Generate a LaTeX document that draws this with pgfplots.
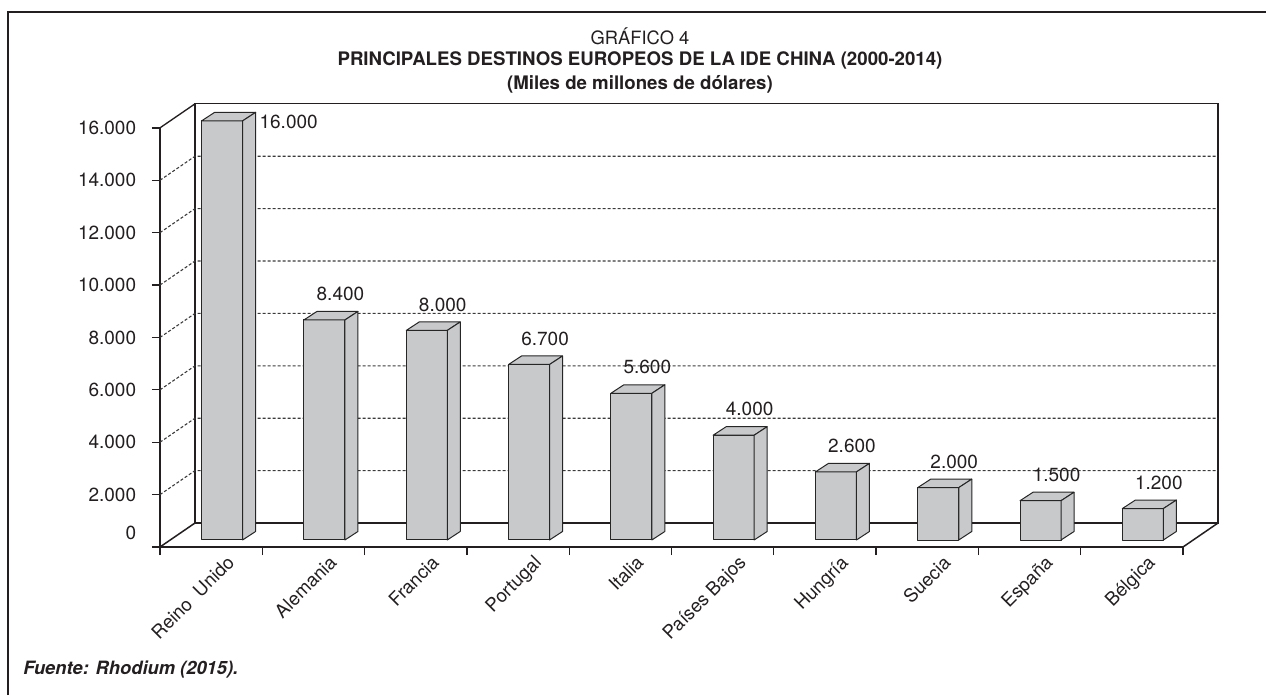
\documentclass[border=0pt]{standalone}
\usepackage{fontspec}
\setmainfont{TeX Gyre Heros}
\usepackage{pgfplots}
\pgfplotsset{compat=1.18}
\usepackage{pgfplotstable}

\definecolor{barfill}{HTML}{C8C9CB}
\definecolor{barline}{HTML}{262626}
\definecolor{ink}{HTML}{231F20}
\definecolor{gridc}{HTML}{3A3A3A}

% x = category centre, v = value, labx/laby = label offset (pt)
\pgfplotstableread{
x v labx laby
0.5 16000 46.5 3.6
1.5 8400 16.2 19.8
2.5 8000 16.2 19.8
3.5 6700 16.2 19.8
4.5 5600 16.2 19.8
5.5 4000 16.2 19.8
6.5 2600 16.2 19.8
7.5 2000 16.2 19.8
8.5 1500 16.2 19.8
9.5 1200 16.2 19.8
}\ideData

% 3d bar drawn at the data point: front, top and side face
\pgfdeclareplotmark{prism}{%
  \pgfmathsetmacro\yb{4.2-\barv*0.01572}%
  \pgfmathsetmacro\ybb{\yb+5.1}%
  \pgfsetlinewidth{0.6pt}\pgfsetroundjoin
  \pgfsetstrokecolor{barline}\pgfsetfillcolor{barfill}%
  \pgfpathrectanglecorners{\pgfpoint{-5.7pt}{\yb pt}}{\pgfpoint{18.9pt}{4.2pt}}%
  \pgfusepath{fill,stroke}%
  \pgfpathmoveto{\pgfpoint{-5.7pt}{4.2pt}}%
  \pgfpathlineto{\pgfpoint{18.9pt}{4.2pt}}%
  \pgfpathlineto{\pgfpoint{26.7pt}{9.3pt}}%
  \pgfpathlineto{\pgfpoint{2.1pt}{9.3pt}}%
  \pgfpathclose\pgfusepath{fill,stroke}%
  \pgfpathmoveto{\pgfpoint{18.9pt}{4.2pt}}%
  \pgfpathlineto{\pgfpoint{26.7pt}{9.3pt}}%
  \pgfpathlineto{\pgfpoint{26.7pt}{\ybb pt}}%
  \pgfpathlineto{\pgfpoint{18.9pt}{\yb pt}}%
  \pgfpathclose\pgfusepath{fill,stroke}%
}

\begin{document}
\begin{tikzpicture}[x=0.6pt,y=0.6pt]
\useasboundingbox (0,0) rectangle (1266,695);
\draw[line width=0.9pt, ink] (8,0) -- (8,683) -- (1266,683);
\node[font=\fontsize{11}{12}\selectfont, text=ink] at (640,659) {GRÁFICO 4};
\node[font=\bfseries\fontsize{11.2}{12}\selectfont, text=ink] at (640,635) {PRINCIPALES DESTINOS EUROPEOS DE LA IDE CHINA (2000-2014)};
\node[font=\bfseries\fontsize{11.2}{12}\selectfont, text=ink] at (640,611) {(Miles de millones de dólares)};
\node[anchor=west, inner sep=0pt, font=\bfseries\itshape\fontsize{11}{12}\selectfont, text=ink] at (23,25) {Fuente: Rhodium (2015).};

\begin{axis}[
    at={(96pt,88.8pt)}, anchor=south west,
    scale only axis, width=613.8pt, height=251.5pt,
    xmin=0, xmax=10, ymin=0, ymax=16000,
    clip=false,
    axis x line*=bottom, axis y line*=left,
    axis line style={line width=0.9pt, ink},
    tick style={line width=0.8pt, ink},
    tick align=outside, major tick length=4.8pt,
    xtick={0,...,10}, x tick label as interval,
    xticklabels={Reino~ Unido, Alemania, Francia, Portugal, Italia,
        Países Bajos, Hungría, Suecia, España, Bélgica},
    ytick={2000,4000,...,16000},
    extra y ticks={0},
    extra y tick style={yticklabel style={yshift=8.5pt}},
    scaled y ticks=false,
    /pgf/number format/.cd, fixed, precision=0, 1000 sep={.},
        assume math mode=true, /pgfplots/.cd,
    tick label style={font=\fontsize{11.4}{12}\selectfont, text=ink},
    yticklabel style={xshift=-6pt},
    xticklabel style={rotate=45, anchor=north east, xshift=10pt, yshift=-2.4pt,
        font=\fontsize{11.2}{12}\selectfont},
]
% back wall, floor and side wall
\draw[line width=0.7pt, ink] (axis cs:0.3421,916) rectangle (axis cs:10.3421,16916);
\draw[line width=0.8pt, ink] (axis cs:0,16000) -- (axis cs:0.3421,16916);
\draw[line width=0.9pt, ink] (axis cs:0,0) -- (axis cs:0.3421,916);
\draw[line width=0.9pt, ink] (axis cs:10,0) -- (axis cs:10.3421,916);
\pgfplotsinvokeforeach{2000,4000,...,14000}{
  \draw[gridc, line width=0.65pt, dash pattern=on 1.8pt off 1.2pt]
    (axis cs:0,#1) -- (axis cs:0.3421,#1+916) -- (axis cs:10.3421,#1+916);
}
\addplot[scatter, only marks, mark=prism,
    scatter/@pre marker code/.code={}, scatter/@post marker code/.code={},
    visualization depends on={\thisrow{v} \as \barv},
    visualization depends on={\thisrow{labx} \as \labx},
    visualization depends on={\thisrow{laby} \as \laby},
    point meta=\thisrow{v},
    nodes near coords,
    every node near coord/.append style={anchor=center, xshift=\labx pt,
        yshift=\laby pt, font=\fontsize{11.4}{12}\selectfont, text=ink},
] table[x=x, y=v] {\ideData};
\end{axis}
\end{tikzpicture}
\end{document}
